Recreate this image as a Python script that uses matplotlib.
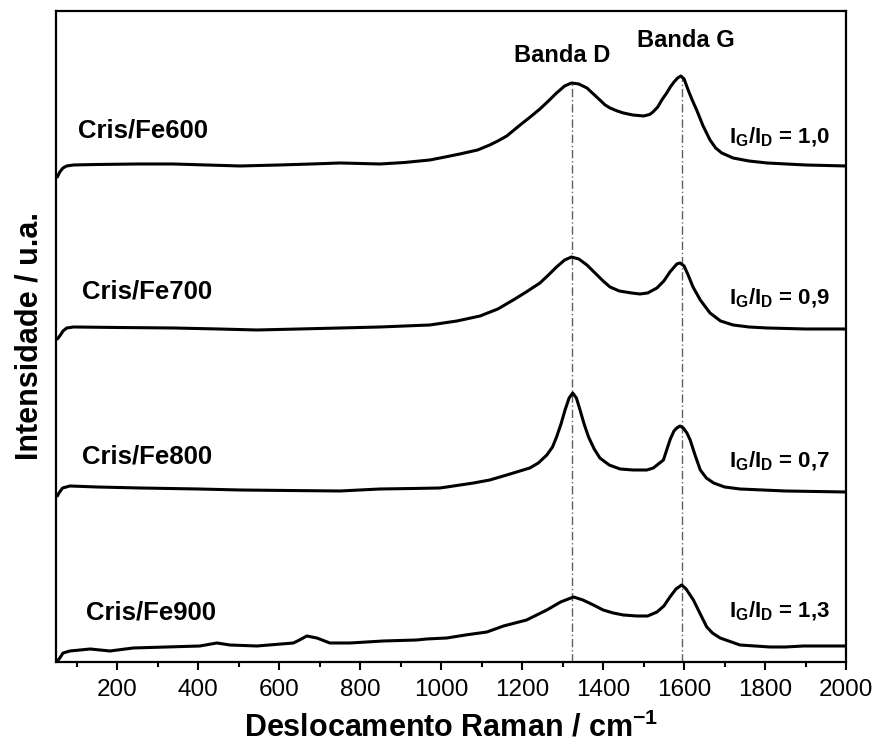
import matplotlib
matplotlib.use("Agg")
import matplotlib.pyplot as plt
from matplotlib.ticker import MultipleLocator

plt.rcParams['font.family'] = ['Liberation Sans', 'DejaVu Sans']
plt.rcParams['mathtext.fontset'] = 'custom'
plt.rcParams['mathtext.bf'] = 'Liberation Sans:bold'
plt.rcParams['mathtext.rm'] = 'Liberation Sans'

# Raman spectra (wavenumber / cm-1, intensity in arbitrary units)
wn_600 = [52, 58, 66, 75, 92, 150, 250, 338, 420, 503, 600, 680, 750, 800, 849, 910, 972,
          1010, 1046, 1090, 1120, 1140, 1162, 1180, 1195, 1220, 1244, 1265, 1285, 1305,
          1322, 1340, 1360, 1376, 1392, 1405, 1417, 1435, 1450, 1473, 1500, 1515, 1523,
          1535, 1545, 1557, 1566, 1575, 1584, 1592, 1600, 1610, 1620, 1631, 1647, 1664,
          1678, 1693, 1721, 1760, 1805, 1900, 2000]
int_600 = [-5, 0, 4, 6, 7, 7.5, 8, 8, 7, 6, 7, 8, 9, 8.5, 8, 9.5, 12,
           15, 18, 22, 27, 31, 36, 42, 47, 55, 63, 71, 79, 86,
           89, 88, 84, 78, 72, 67, 64, 61, 59, 57, 56, 57.5, 60,
           65, 72, 79, 85, 90, 94, 96, 93, 82, 72, 62, 46, 32,
           24, 19, 14, 11, 9, 7, 6]

wn_700 = [52, 58, 66, 75, 92, 200, 338, 450, 545, 650, 750, 849, 910, 972, 1039, 1096,
          1140, 1178, 1210, 1244, 1265, 1285, 1305, 1322, 1340, 1360, 1380, 1400, 1417,
          1440, 1470, 1491, 1510, 1533, 1550, 1565, 1582, 1590, 1600, 1610, 1622, 1640,
          1664, 1690, 1721, 1760, 1805, 1900, 2000]
int_700 = [-2, 1, 6, 9, 10, 9.5, 9, 8, 7, 8, 9, 10, 11, 12, 16, 21,
           28, 37, 45, 54, 62, 70, 77, 80, 78, 72, 64, 56, 50,
           46, 44, 43, 44, 49, 56, 65, 73, 74, 71, 62, 50, 37,
           24, 16, 12, 10, 9, 8, 8]

wn_800 = [52, 56, 65, 83, 150, 256, 400, 503, 620, 750, 849, 930, 997, 1014, 1080, 1120,
          1162, 1219, 1240, 1261, 1275, 1285, 1296, 1306, 1316, 1325, 1334, 1343, 1353,
          1364, 1378, 1392, 1415, 1442, 1474, 1508, 1524, 1549, 1557, 1566, 1575, 1582,
          1590, 1598, 1607, 1615, 1627, 1640, 1655, 1673, 1700, 1738, 1850, 2000]
int_800 = [6, 9, 14, 16, 15, 14, 13, 12, 11.5, 11, 13, 13.5, 14, 15, 19, 22,
           27, 34, 39, 47, 55, 65, 78, 92, 104, 109, 104, 92, 78,
           65, 53, 44, 37, 33, 32, 32, 34, 42, 52, 63, 71, 74,
           76, 74, 69, 62, 47, 32, 24, 19, 15, 13, 11, 10]

wn_900 = [52, 58, 66, 83, 133, 182, 239, 322, 404, 446, 478, 545, 635, 650, 668, 693,
          725, 775, 857, 940, 964, 1014, 1060, 1113, 1154, 1211, 1261, 1295, 1327, 1350,
          1376, 1400, 1425, 1450, 1483, 1510, 1533, 1550, 1565, 1580, 1594, 1605, 1623,
          1640, 1656, 1670, 1689, 1738, 1812, 1850, 1895, 2000]
int_900 = [1, 4, 9, 11, 13, 11, 14, 15, 16, 19, 17, 16, 19, 22, 26, 24,
           19, 19, 21, 22, 23, 24, 27, 30, 36, 42, 52, 60, 65, 62,
           57, 52, 49, 47, 46, 46, 50, 56, 65, 73, 77, 73, 62,
           48, 35, 29, 24, 17, 15, 15, 16, 16]

sample_names = ['Cris/Fe600', 'Cris/Fe700', 'Cris/Fe800', 'Cris/Fe900']
ratio_labels = ['1,0', '0,9', '0,7', '1,3']
band_positions = [1324, 1594]
band_names = ['Banda D', 'Banda G']

spectra = [(wn_600, int_600), (wn_700, int_700), (wn_800, int_800), (wn_900, int_900)]
offsets = [490, 325, 160, 0]

fig = plt.figure(figsize=(8.75, 7.47), dpi=100)
ax = fig.add_axes([0.0637, 0.1138, 0.9032, 0.8715])

for (wn, inten), off in zip(spectra, offsets):
    ax.plot(wn, [v + off for v in inten], color='black', lw=2.2,
            solid_joinstyle='round', solid_capstyle='round', zorder=3)

# band guide lines, from the axis up to the top spectrum's peaks
top_wn, top_int = spectra[0]
for pos in band_positions:
    near = [v for w, v in zip(top_wn, top_int) if abs(w - pos) <= 12]
    ax.vlines(pos, 0, max(near) + offsets[0], colors='#606060', lw=1.0,
              linestyles=(0, (6, 2, 1, 2)), zorder=2)

ax.set_xlim(48, 2000)
ax.set_ylim(0, 651)
ax.xaxis.set_major_locator(MultipleLocator(200))
ax.xaxis.set_minor_locator(MultipleLocator(100))
ax.set_yticks([])
ax.tick_params(axis='x', which='major', direction='out', length=6, width=1.5,
               labelsize=17.5, pad=6)
ax.tick_params(axis='x', which='minor', direction='out', length=3.5, width=1.5)
for sp in ax.spines.values():
    sp.set_linewidth(1.6)

ax.set_xlabel('Deslocamento Raman / cm$^{\\mathbf{-1}}$', fontsize=22,
              fontweight='bold', labelpad=8)
ax.set_ylabel('Intensidade / u.a.', fontsize=22, fontweight='bold', labelpad=8)

# sample names on the left
name_pos = [(78, 131), (82, 292), (82, 457), (86, 613)]
for name, (px, py) in zip(sample_names, name_pos):
    ax.text((px - 55.7) / 790.3 * 1952 + 48, 662 - py, name, fontsize=18.5,
            fontweight='bold', ha='left', va='center')

# band names
ax.text(1300, 662 - 56, band_names[0], fontsize=17, fontweight='bold',
        ha='center', va='center')
ax.text(1605, 662 - 41, band_names[1], fontsize=17, fontweight='bold',
        ha='center', va='center')

# IG/ID ratios on the right
ratio_y = [137, 298, 461, 611]
for r, py in zip(ratio_labels, ratio_y):
    ax.text(1712, 662 - py, r'$\mathbf{I_G/I_D}$ = ' + r, fontsize=16,
            fontweight='bold', ha='left', va='center')

fig.savefig('out.png', dpi=100)
